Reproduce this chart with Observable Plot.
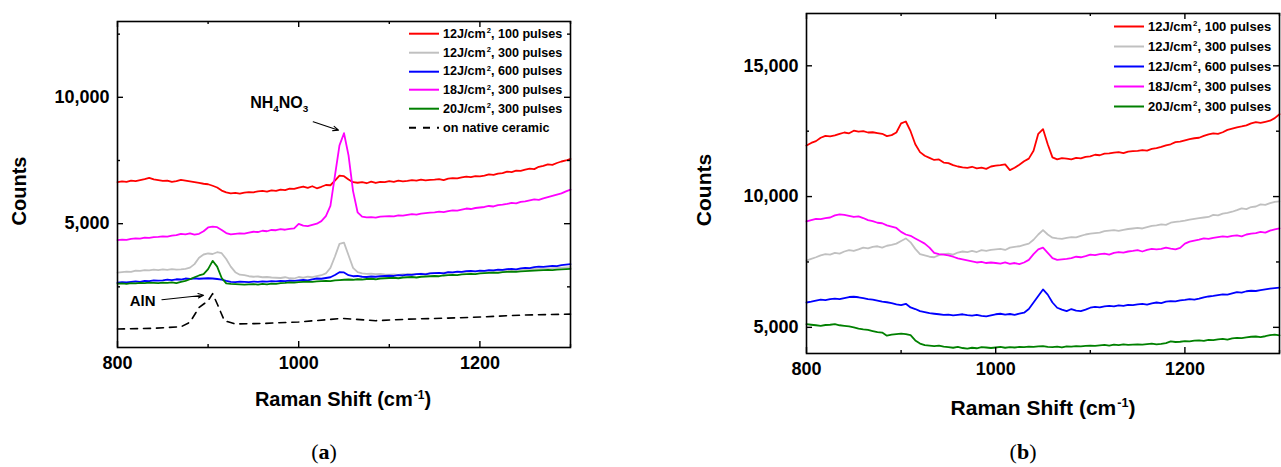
<!DOCTYPE html>
<html><head><meta charset="utf-8">
<script src="https://cdn.jsdelivr.net/npm/d3@7"></script>
<script src="https://cdn.jsdelivr.net/npm/@observablehq/plot@0.6"></script>
<style>
body{margin:0;background:#fff;}
#wrap{position:relative;width:1281px;height:467px;overflow:hidden;font-family:"Liberation Sans",Arial,sans-serif;font-weight:bold;color:#000;background:#fff;}
.abs{position:absolute;white-space:nowrap;line-height:1;}
.sup{font-size:0.6em;position:relative;top:-0.6em;margin-left:1px;}
.sub{font-size:0.62em;position:relative;top:0.35em;}
.leg{position:absolute;display:flex;align-items:center;white-space:nowrap;line-height:1;transform:translateY(-50%);}
.cap{font-family:"Liberation Serif","DejaVu Serif",serif;font-weight:normal;font-size:22px;}
svg{overflow:visible;}
</style></head><body><div id="wrap"></div>
<script>
// ---------- data ----------
const ramanShift = d3.range(800, 1301, 5); // sampling grid, cm^-1

// Panel (a)
const a_12J_100 = [6640,6670,6650,6700,6680,6720,6760,6810,6750,6720,
  6690,6700,6650,6680,6730,6700,6670,6640,6610,6580,
  6560,6500,6430,6310,6240,6200,6220,6190,6230,6250,
  6240,6280,6300,6270,6320,6300,6350,6330,6390,6380,
  6430,6470,6420,6480,6400,6460,6530,6520,6700,6900,
  6880,6750,6640,6620,6640,6600,6660,6610,6650,6640,
  6680,6650,6700,6670,6690,6720,6700,6740,6710,6730,
  6740,6760,6720,6780,6800,6790,6830,6860,6840,6880,
  6870,6900,6950,6930,6980,7000,7060,7040,7100,7090,
  7140,7180,7160,7250,7290,7350,7330,7400,7460,7500,7560];
const a_12J_300 = [3060,3080,3100,3090,3140,3130,3160,3150,3180,3160,
  3190,3170,3200,3180,3190,3210,3260,3400,3650,3780,
  3820,3800,3870,3830,3600,3300,3080,2980,2960,2920,
  2900,2910,2880,2890,2870,2860,2850,2880,2840,2830,
  2890,2860,2900,2880,2920,2960,3030,3250,3700,4200,
  4250,3750,3250,3080,3030,3010,3020,3000,3010,2990,
  2980,2990,2970,3000,2990,3010,3000,3020,3010,3040,
  3050,3040,3060,3070,3060,3080,3090,3100,3090,3110,
  3120,3110,3130,3140,3130,3150,3160,3170,3160,3180,
  3190,3200,3210,3200,3220,3230,3240,3250,3260,3270,3280];
const a_12J_600 = [2670,2690,2680,2700,2720,2700,2740,2730,2760,2750,
  2760,2790,2770,2800,2790,2830,2810,2840,2820,2830,
  2840,2830,2810,2790,2740,2700,2690,2710,2700,2690,
  2710,2700,2720,2710,2730,2720,2740,2730,2750,2740,
  2760,2780,2760,2800,2830,2820,2850,2880,2970,3080,
  3070,2960,2920,2930,2900,2890,2910,2900,2920,2930,
  2940,2930,2960,2950,2980,2970,3000,3010,2990,3030,
  3040,3050,3030,3080,3070,3100,3090,3120,3130,3110,
  3140,3130,3160,3150,3180,3170,3200,3210,3190,3230,
  3250,3240,3280,3300,3290,3310,3330,3320,3360,3380,3400];
const a_18J_300 = [4350,4370,4360,4400,4420,4410,4450,4440,4470,4480,
  4500,4490,4530,4550,4600,4580,4620,4570,4600,4700,
  4850,4880,4860,4750,4630,4580,4600,4620,4610,4650,
  4680,4670,4720,4700,4750,4740,4780,4760,4790,4810,
  4990,4920,4900,4950,5000,5100,5300,5700,6900,8100,
  8580,7700,6290,5450,5280,5250,5260,5240,5280,5290,
  5300,5290,5330,5320,5350,5380,5360,5400,5420,5440,
  5450,5480,5460,5500,5530,5520,5560,5600,5580,5620,
  5640,5660,5700,5680,5730,5750,5780,5820,5800,5860,
  5880,5920,5960,5940,6000,6050,6100,6150,6200,6280,6350];
const a_20J_300 = [2630,2640,2620,2650,2640,2660,2650,2670,2660,2650,
  2670,2660,2680,2650,2700,2740,2800,2880,2950,3000,
  3200,3530,3300,2850,2640,2620,2610,2600,2590,2600,
  2610,2590,2620,2600,2630,2620,2650,2660,2680,2670,
  2690,2700,2710,2700,2720,2730,2740,2730,2760,2770,
  2780,2790,2780,2800,2790,2810,2820,2800,2830,2840,
  2850,2860,2840,2870,2880,2890,2870,2900,2910,2920,
  2930,2920,2950,2960,2970,2960,2990,3000,3010,3000,
  3030,3040,3050,3060,3050,3080,3090,3100,3090,3110,
  3120,3130,3140,3150,3160,3170,3160,3180,3190,3200,3210];
const ceramicShift  = [800,840,870,880,890,900,905,910,918,930,960,1000,1048,1085,1120,1150,1190,1245,1300];
const ceramicCounts = [830,860,920,1100,1680,1950,2230,1830,1160,1030,1050,1110,1250,1160,1220,1250,1290,1380,1420];

// Panel (b)
const b_12J_100 = [11950,12050,12120,12250,12320,12300,12340,12400,12450,12420,
  12520,12480,12500,12450,12460,12430,12400,12310,12350,12450,
  12800,12870,12500,12000,11700,11560,11480,11400,11420,11300,
  11280,11200,11150,11120,11100,11140,11080,11110,11060,11150,
  11180,11200,11230,11010,11100,11220,11350,11450,11750,12400,
  12580,12000,11500,11420,11470,11450,11420,11480,11460,11520,
  11540,11600,11580,11640,11650,11680,11700,11660,11720,11740,
  11750,11780,11760,11820,11850,11900,11960,12000,12080,12100,
  12150,12200,12230,12250,12320,12380,12420,12400,12460,12550,
  12600,12650,12680,12720,12800,12850,12820,12860,12900,13000,13150];
const b_12J_300 = [7550,7620,7680,7750,7800,7780,7850,7820,7900,7950,
  7920,7980,8050,8020,8080,8100,8050,8120,8150,8200,
  8300,8400,8250,8000,7800,7750,7700,7680,7760,7800,
  7820,7780,7860,7900,7880,7920,7880,7950,7920,7960,
  7980,8000,7960,8050,8080,8100,8150,8200,8350,8550,
  8720,8550,8430,8400,8380,8420,8450,8440,8500,8550,
  8580,8600,8620,8680,8700,8720,8690,8730,8760,8780,
  8800,8780,8830,8880,8900,8940,8920,9000,9030,9050,
  9080,9120,9150,9180,9200,9220,9300,9280,9350,9380,
  9420,9480,9550,9520,9600,9620,9700,9680,9750,9800,9820];
const b_12J_600 = [5950,5980,6020,6060,6040,6080,6100,6080,6120,6160,
  6170,6150,6120,6080,6060,6020,5980,5960,5930,5880,
  5850,5900,5760,5700,5620,5580,5540,5520,5500,5480,
  5490,5460,5480,5500,5470,5450,5480,5440,5420,5460,
  5500,5520,5490,5510,5480,5520,5560,5700,5950,6200,
  6450,6250,5950,5750,5680,5620,5700,5640,5620,5680,
  5750,5780,5760,5800,5820,5800,5840,5820,5860,5850,
  5880,5900,5870,5920,5950,5930,5980,6000,5990,6030,
  6050,6080,6060,6100,6150,6180,6200,6230,6260,6250,
  6300,6350,6330,6380,6400,6390,6420,6450,6480,6500,6520];
const b_18J_300 = [9050,9100,9150,9140,9180,9200,9280,9320,9300,9260,
  9220,9240,9180,9100,9060,9000,8980,8900,8850,8800,
  8650,8550,8500,8400,8300,8200,8050,7850,7800,7780,
  7750,7700,7640,7600,7560,7520,7480,7500,7460,7480,
  7460,7440,7480,7430,7460,7420,7480,7580,7800,7980,
  8050,7850,7650,7580,7600,7620,7650,7700,7680,7720,
  7780,7760,7800,7820,7780,7850,7880,7860,7900,7920,
  7950,7900,7960,8000,7980,8000,8050,8010,7980,8040,
  8200,8280,8320,8350,8400,8380,8420,8450,8480,8460,
  8500,8520,8480,8550,8580,8600,8650,8620,8700,8750,8780];
const b_20J_300 = [5120,5100,5080,5060,5090,5100,5120,5080,5060,5040,
  5000,4950,4920,4900,4860,4820,4800,4680,4720,4740,
  4760,4740,4700,4500,4380,4320,4300,4280,4300,4260,
  4240,4220,4250,4210,4190,4220,4200,4240,4230,4210,
  4230,4250,4220,4240,4230,4250,4240,4260,4250,4270,
  4280,4250,4240,4260,4230,4270,4260,4280,4270,4290,
  4300,4290,4310,4330,4300,4340,4320,4350,4330,4340,
  4350,4340,4360,4380,4350,4370,4400,4460,4440,4450,
  4470,4460,4490,4500,4480,4520,4510,4540,4560,4530,
  4580,4600,4590,4620,4640,4650,4630,4660,4700,4720,4690];

const seriesLabels = ["12J/cm^2, 100 pulses","12J/cm^2, 300 pulses","12J/cm^2, 600 pulses","18J/cm^2, 300 pulses","20J/cm^2, 300 pulses"];
const ceramicLabel = "on native ceramic";
const seriesColors = ["#ff0000","#c0c0c0","#0000ff","#ff00ff","#008000"];

const xMajor = [800, 1000, 1200];
const xMinor = [900, 1100, 1300];
const yMajorA = [5000, 10000];
const yMinorA = [2500, 7500, 12500];
const yMajorB = [5000, 10000, 15000];
const yMinorB = [7500, 12500];

// annotations for panel (a): [text, x, y] and arrows [x1,y1,x2,y2]
const annoText = [["NH|4|NO|3", 947, 9740], ["AlN", 814, 1950]];
const annoArrows = [[1016, 9030, 1044, 8700], [849, 1990, 895, 2170]];

// ---------- helpers ----------
function tidy(values, name) { return values.map((v, i) => ({x: ramanShift[i], y: v, name})); }
function labelHTML(s) { return s.replace("^2", '<span class="sup">2</span>'); }

// inward tick marks drawn as inset rules (insets in pixels)
function frameMarks(yMajor, yMinor, innerW, innerH) {
  const t = {stroke: "#000", strokeWidth: 1.4};
  return [
    Plot.ruleX(xMajor, {...t, insetTop: innerH - 6}),
    Plot.ruleX(xMinor, {...t, insetTop: innerH - 3}),
    Plot.ruleX(xMajor, {...t, insetBottom: innerH - 6}),
    Plot.ruleX(xMinor, {...t, insetBottom: innerH - 3}),
    Plot.ruleY(yMajor, {...t, insetRight: innerW - 6}),
    Plot.ruleY(yMinor, {...t, insetRight: innerW - 3}),
    Plot.ruleY(yMajor, {...t, insetLeft: innerW - 6}),
    Plot.ruleY(yMinor, {...t, insetLeft: innerW - 3}),
    Plot.frame({stroke: "#000", strokeWidth: 1.6}),
    Plot.axisX(xMajor, {anchor: "bottom", tickSize: 0, tickPadding: 9, label: null, fontSize: 18, fontWeight: "bold", tickFormat: d => String(d)}),
    Plot.axisY(yMajor, {anchor: "left", tickSize: 0, tickPadding: 8, label: null, fontSize: 18, fontWeight: "bold", tickFormat: d3.format(",")})
  ];
}

const style = {fontFamily: '"Liberation Sans", Arial, sans-serif', fontWeight: "bold", color: "#000", background: "transparent", overflow: "visible"};

// ---------- panel (a) ----------
const aSets = [a_12J_100, a_12J_300, a_12J_600, a_18J_300, a_20J_300];
const ceramic = ceramicShift.map((x, i) => ({x, y: ceramicCounts[i]}));
const plotA = Plot.plot({
  width: 640, height: 400,
  marginLeft: 117, marginRight: 70, marginTop: 21, marginBottom: 53,
  x: {domain: [800, 1300]},
  y: {domain: [100, 13000]},
  style,
  marks: [
    ...aSets.map((vals, i) => Plot.line(tidy(vals, seriesLabels[i]), {x: "x", y: "y", stroke: seriesColors[i], strokeWidth: 1.8})),
    Plot.line(ceramic, {x: "x", y: "y", stroke: "#000", strokeWidth: 1.6, strokeDasharray: "7,6"}),
    Plot.arrow(annoArrows, {x1: d => d[0], y1: d => d[1], x2: d => d[2], y2: d => d[3], stroke: "#000", strokeWidth: 1.1, headLength: 8, headAngle: 45}),
    ...frameMarks(yMajorA, yMinorA, 453, 326)
  ]
});

// ---------- panel (b) ----------
const bSets = [b_12J_100, b_12J_300, b_12J_600, b_18J_300, b_20J_300];
const plotB = Plot.plot({
  width: 641, height: 400,
  marginLeft: 166, marginRight: 2, marginTop: 13, marginBottom: 47,
  x: {domain: [800, 1300]},
  y: {domain: [4000, 17000]},
  style,
  marks: [
    ...bSets.map((vals, i) => Plot.line(tidy(vals, seriesLabels[i]), {x: "x", y: "y", stroke: seriesColors[i], strokeWidth: 1.8})),
    ...frameMarks(yMajorB, yMinorB, 473, 340)
  ]
});

// ---------- layout ----------
const wrap = document.getElementById("wrap");
function place(node, left, top) { const d = document.createElement("div"); d.style.position = "absolute"; d.style.left = left + "px"; d.style.top = top + "px"; d.appendChild(node); wrap.appendChild(d); return d; }
place(plotA, 0, 0);
place(plotB, 640, 0);

function addHTML(cls, html, css) { const d = document.createElement("div"); d.className = cls; d.innerHTML = html; Object.assign(d.style, css); wrap.appendChild(d); return d; }

// legends
function legend(left, top0, step, fontSize, entries) {
  entries.forEach((e, i) => {
    const dash = e.dash ? ' stroke-dasharray="7,7"' : "";
    addHTML("leg", `<svg width="30" height="6" style="margin-right:4px"><line x1="0" y1="3" x2="30" y2="3" stroke="${e.color}" stroke-width="2"${dash}/></svg><span>${labelHTML(e.label)}</span>`,
      {left: left + "px", top: (top0 + i * step) + "px", fontSize: fontSize + "px"});
  });
}
const legA = seriesLabels.map((l, i) => ({label: l, color: seriesColors[i]}));
legA.push({label: ceramicLabel, color: "#000", dash: true});
legend(409, 34, 18.7, 12.6, legA);
legend(1114, 26, 20, 13, seriesLabels.map((l, i) => ({label: l, color: seriesColors[i]})));

// annotations text (panel a), positioned through the plot's scales
const sxA = plotA.scale("x"), syA = plotA.scale("y");
annoText.forEach(([t, x, y]) => {
  const parts = t.split("|");
  const html = parts.map((p, i) => i % 2 ? `<span class="sub">${p}</span>` : p).join("");
  addHTML("abs", html, {left: sxA.apply(x) + "px", top: syA.apply(y) + "px", fontSize: (t.length > 4 ? 16 : 15) + "px", transform: "translateY(-50%)"});
});

// axis titles
addHTML("abs", 'Raman Shift (cm<span class="sup">-1</span>)', {left: "343px", top: "399px", fontSize: "20px", transform: "translate(-50%,-50%)"});
addHTML("abs", 'Raman Shift (cm<span class="sup">-1</span>)', {left: "1043px", top: "407px", fontSize: "21px", transform: "translate(-50%,-50%)"});
addHTML("abs", 'Counts', {left: "19px", top: "191px", fontSize: "20px", transform: "translate(-50%,-50%) rotate(-90deg)"});
addHTML("abs", 'Counts', {left: "703px", top: "190px", fontSize: "21px", transform: "translate(-50%,-50%) rotate(-90deg)"});
// panel captions
addHTML("abs cap", '(<b>a</b>)', {left: "324px", top: "452px", transform: "translate(-50%,-50%)"});
addHTML("abs cap", '(<b>b</b>)', {left: "1023px", top: "452px", transform: "translate(-50%,-50%)"});
</script></body></html>
